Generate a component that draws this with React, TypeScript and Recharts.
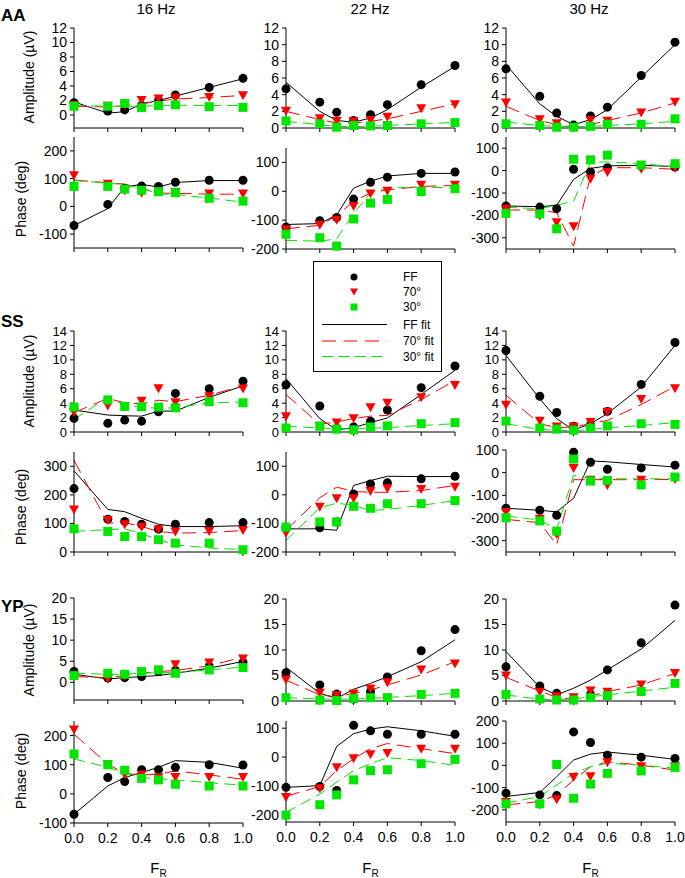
import React from "react";
import { ComposedChart, Line, XAxis, YAxis } from "recharts";

const FONT = "'Liberation Sans', Arial, sans-serif";
const GREEN = "#00e600";
const RED = "#ff0000";

// relative frequency of each condition
const FR = [0, 0.2, 0.3, 0.4, 0.5, 0.6, 0.8, 1.0];
const FR_TICKS = [0, 0.2, 0.4, 0.6, 0.8, 1.0];

const AMP12 = [0, 2, 4, 6, 8, 10, 12];
const AMP14 = [0, 2, 4, 6, 8, 10, 12, 14];
const AMP20 = [0, 5, 10, 15, 20];

// ---- AA ----
const AA16_AMP = {
  ff: [1.7, 0.55, 0.7, 1.3, 2.0, 2.75, 3.8, 5.05],
  d70: [1.3, 1.2, 1.3, 2.0, 2.2, 2.3, 2.4, 2.65],
  d30: [1.2, 1.2, 1.6, 1.0, 1.3, 1.4, 1.15, 1.05],
  ffFit: [1.8, 0.25, 0.45, 1.5, 2.0, 2.6, 3.8, 5.0],
  fit70: [1.2, 1.1, 1.3, 1.6, 1.9, 2.2, 2.4, 2.7],
  fit30: [1.3, 1.2, 1.2, 1.2, 1.3, 1.35, 1.3, 1.3],
};
const AA16_PH = {
  ff: [-69, 7, 65, 73, 72, 87, 94, 94],
  d70: [110, 80, 56, 47, 52, 50, 45, 45],
  d30: [72, 72, 62, 58, 53, 49, 29, 19],
  ffFit: [-69, -8, 70, 79, 70, 86, 93, 93],
  fit70: [95, 85, 80, 65, 48, 47, 44, 44],
  fit30: [93, 84, 78, 65, 45, 43, 30, 15],
};
const AA22_AMP = {
  ff: [4.7, 3.1, 1.9, 0.9, 1.6, 2.8, 5.2, 7.5],
  d70: [2.0, 1.1, 0.8, 0.75, 0.9, 1.3, 2.3, 2.8],
  d30: [0.85, 0.5, 0.1, 0.3, 0.25, 0.3, 0.5, 0.65],
  ffFit: [5.5, 2.0, 0.9, 0.7, 1.2, 2.2, 4.9, 7.4],
  fit70: [2.0, 1.0, 0.6, 0.6, 0.8, 1.1, 2.0, 2.9],
  fit30: [0.8, 0.4, 0.2, 0.15, 0.2, 0.3, 0.5, 0.65],
};
const AA22_PH = {
  ff: [-124, -102, -91, -27, 31, 49, 62, 67],
  d70: [-133, -118, -100, -53, -9, 0, 21, 21],
  d30: [-149, -161, -190, -96, -41, -28, -1, 9],
  ffFit: [-115, -112, -82, 11, 35, 53, 62, 62],
  fit70: [-130, -118, -85, -35, -6, 5, 17, 20],
  fit30: [-170, -173, -165, -76, -6, 12, 14, 12],
};
const AA30_AMP = {
  ff: [7.1, 3.8, 1.8, 0.35, 1.45, 2.5, 6.3, 10.3],
  d70: [3.0, 1.0, 0.5, 0.05, 0.9, 0.8, 1.8, 3.1],
  d30: [0.5, 0.3, 0.1, 0.1, 0.2, 0.45, 0.45, 1.1],
  ffFit: [7.6, 2.9, 1.4, 0.4, 1.0, 2.2, 6.1, 10.0],
  fit70: [2.6, 0.9, 0.4, 0.1, 0.4, 0.9, 1.8, 3.0],
  fit30: [0.7, 0.3, 0.2, 0.15, 0.2, 0.3, 0.5, 0.8],
};
const AA30_PH = {
  ff: [-158, -163, -170, 6, -6, 13, 21, 16],
  d70: [-173, -203, -233, -251, -39, -9, 6, 10],
  d30: [-191, -193, -260, 51, 48, 69, 25, 31],
  ffFit: [-158, -161, -155, -39, 10, 21, 24, 18],
  fit70: [-176, -176, -188, -337, -24, 13, 13, 6],
  fit30: [-164, -170, -155, -136, 36, 39, 31, 16],
};

// ---- SS ----
const SS16_AMP = {
  ff: [1.9, 1.2, 1.65, 1.5, 2.8, 5.35, 6.0, 7.05],
  d70: [2.7, 3.6, 3.5, 4.25, 6.0, 4.05, 4.9, 5.95],
  d30: [3.45, 4.45, 3.55, 3.5, 3.45, 3.35, 4.2, 4.05],
  ffFit: [3.05, 2.35, 2.25, 2.2, 2.9, 2.9, 4.8, 6.4],
  fit70: [2.7, 4.65, 4.05, 3.9, 4.4, 4.2, 5.1, 6.4],
  fit30: [1.75, 4.8, 3.75, 3.4, 3.3, 3.35, 4.05, 4.15],
};
const SS16_PH = {
  ff: [222, 115, 107, 97, 80, 97, 103, 103],
  d70: [147, 110, 95, 87, 78, 70, 72, 75],
  d30: [81, 72, 54, 54, 43, 31, 31, 8],
  ffFit: [284, 149, 141, 118, 97, 89, 89, 92],
  fit70: [321, 101, 103, 89, 72, 66, 68, 75],
  fit30: [72, 78, 81, 64, 43, 25, 14, 8],
};
const SS22_AMP = {
  ff: [6.55, 3.6, 0.5, 0.7, 1.5, 3.05, 6.15, 9.15],
  d70: [2.1, 0.8, 1.25, 1.85, 3.35, 4.0, 4.75, 6.45],
  d30: [0.55, 0.8, 0.4, 0.3, 0.7, 0.85, 1.15, 1.3],
  ffFit: [7.4, 1.85, 0.3, 0.6, 1.3, 1.95, 5.2, 8.55],
  fit70: [5.2, 1.05, 1.4, 1.85, 2.2, 2.3, 4.5, 7.15],
  fit30: [0.8, 0.55, 0.45, 0.45, 0.5, 0.6, 0.9, 1.15],
};
const SS22_PH = {
  ff: [-113, -115, -95, 3, 38, 42, 56, 65],
  d70: [-134, -43, -14, -14, 12, 21, 19, 27],
  d30: [-113, -95, -95, -40, -47, -31, -31, -20],
  ffFit: [-119, -119, -124, 33, 50, 65, 64, 64],
  fit70: [-124, -10, 27, 12, 9, 9, 15, 33],
  fit30: [-159, -45, -29, -37, -55, -51, -37, -20],
};
const SS30_AMP = {
  ff: [11.3, 4.95, 2.7, 0.8, 1.0, 2.85, 6.6, 12.4],
  d70: [3.7, 1.5, 0.7, 0.7, 1.3, 2.75, 4.5, 6.0],
  d30: [1.5, 0.55, 0.4, 0.25, 0.55, 0.85, 1.15, 1.05],
  ffFit: [10.6, 4.6, 1.85, 0.25, 1.15, 2.55, 6.25, 12.0],
  fit70: [5.1, 1.15, 0.6, 0.7, 1.15, 1.6, 3.8, 6.35],
  fit30: [1.15, 0.35, 0.25, 0.15, 0.35, 0.6, 0.9, 1.3],
};
const SS30_PH = {
  ff: [-157, -166, -188, 90, 46, 15, 21, 33],
  d70: [-176, -206, -273, 18, -34, -57, -34, -30],
  d30: [-199, -213, -258, 60, -37, -34, -54, -19],
  ffFit: [-157, -166, -173, -113, 52, 48, 36, 25],
  fit70: [-206, -221, -318, -31, -31, -31, -31, -30],
  fit30: [-191, -209, -251, -12, -24, -27, -27, -27],
};

// ---- YP ----
const YP16_AMP = {
  ff: [2.55, 1.0, 1.1, 1.35, 2.55, 2.8, 3.75, 4.8],
  d70: [1.5, 0.7, 1.35, 2.15, 2.8, 4.15, 4.55, 5.5],
  d30: [1.6, 2.15, 1.9, 2.55, 2.95, 2.15, 2.95, 3.5],
  ffFit: [1.9, 0.8, 1.1, 1.35, 1.6, 2.15, 3.35, 4.95],
  fit70: [1.35, 1.1, 1.6, 2.15, 2.55, 2.8, 3.9, 6.0],
  fit30: [2.15, 1.9, 1.9, 2.15, 2.3, 2.3, 2.95, 3.6],
};
const YP16_PH = {
  ff: [-70, 56, 42, 83, 83, 91, 100, 99],
  d70: [219, 100, 65, 65, 55, 56, 56, 56],
  d30: [137, 100, 81, 53, 48, 33, 27, 27],
  ffFit: [-70, 27, 56, 73, 91, 114, 108, 88],
  fit70: [205, 102, 70, 65, 67, 79, 65, 50],
  fit30: [120, 91, 73, 56, 52, 48, 38, 30],
};
const YP22_AMP = {
  ff: [5.55, 3.15, 1.35, 0.4, 1.85, 4.7, 9.85, 14.0],
  d70: [4.1, 1.5, 1.05, 1.35, 2.35, 3.6, 6.1, 7.25],
  d30: [0.65, 0.2, 0.1, 0.5, 0.65, 0.65, 1.3, 1.5],
  ffFit: [6.6, 1.5, 0.5, 2.3, 3.45, 4.75, 7.7, 12.0],
  fit70: [4.1, 1.2, 0.85, 1.5, 2.15, 3.15, 5.1, 7.7],
  fit30: [0.65, 0.4, 0.35, 0.4, 0.5, 0.7, 1.05, 1.5],
};
const YP22_PH = {
  ff: [-105, -102, -116, 110, 91, 79, 79, 79],
  d70: [-140, -110, -37, -6, 8, 12, 27, 27],
  d30: [-201, -165, -131, -79, -47, -44, -23, -8],
  ffFit: [-105, -99, 37, 81, 97, 105, 91, 72],
  fit70: [-136, -102, -47, -6, 29, 47, 29, 12],
  fit30: [-192, -128, -87, -47, -23, -2, -12, -29],
};
const YP30_AMP = {
  ff: [6.7, 2.95, 1.5, 0.4, 1.3, 6.1, 11.4, 18.8],
  d70: [4.9, 1.7, 0.85, 0.65, 1.95, 1.7, 3.15, 5.4],
  d30: [1.3, 0.4, 0.2, 0.2, 0.65, 1.05, 1.85, 3.45],
  ffFit: [9.7, 2.7, 1.2, 2.5, 4.1, 6.1, 10.2, 15.8],
  fit70: [4.65, 1.95, 0.7, 0.4, 1.0, 1.85, 3.15, 5.4],
  fit30: [1.2, 0.35, 0.2, 0.4, 0.85, 1.2, 1.95, 2.7],
};
const YP30_PH = {
  ff: [-125, -133, -136, 151, 103, 46, 37, 31],
  d70: [-167, -178, -155, -55, -51, 12, -6, -6],
  d30: [-173, -173, 4, -148, -84, -36, -25, -9],
  ffFit: [-140, -122, -51, 24, 51, 60, 46, 27],
  fit70: [-178, -163, -133, -66, -6, 16, 1, -21],
  fit30: [-170, -140, -88, -36, -6, 9, 1, -13],
};

type Series = {
  ff: number[]; d70: number[]; d30: number[];
  ffFit: number[]; fit70: number[]; fit30: number[];
};

const COL_X = [74, 286, 506];
const PLOT_W = 169;

const PANELS = [
  { s: AA16_AMP, col: 0, y0: 28, y1: 128, domain: [-1.8, 12], ticks: AMP12 },
  { s: AA22_AMP, col: 1, y0: 28, y1: 128, domain: [0, 12], ticks: AMP12 },
  { s: AA30_AMP, col: 2, y0: 28, y1: 128, domain: [0, 12], ticks: AMP12 },
  { s: AA16_PH, col: 0, y0: 137, y1: 248, domain: [-150, 250], ticks: [-100, 0, 100, 200] },
  { s: AA22_PH, col: 1, y0: 148, y1: 249, domain: [-200, 150], ticks: [-200, -100, 0, 100] },
  { s: AA30_PH, col: 2, y0: 137, y1: 249, domain: [-350, 150], ticks: [-300, -200, -100, 0, 100] },
  { s: SS16_AMP, col: 0, y0: 331, y1: 432, domain: [0, 14], ticks: AMP14, small: true },
  { s: SS22_AMP, col: 1, y0: 331, y1: 432, domain: [0, 14], ticks: AMP14, small: true },
  { s: SS30_AMP, col: 2, y0: 331, y1: 432, domain: [0, 14], ticks: AMP14, small: true },
  { s: SS16_PH, col: 0, y0: 452, y1: 552, domain: [0, 350], ticks: [0, 100, 200, 300] },
  { s: SS22_PH, col: 1, y0: 452, y1: 552, domain: [-200, 150], ticks: [-200, -100, 0, 100] },
  { s: SS30_PH, col: 2, y0: 450, y1: 552, domain: [-350, 100], ticks: [-300, -200, -100, 0, 100] },
  { s: YP16_AMP, col: 0, y0: 598, y1: 700, domain: [-4.2, 20], ticks: AMP20 },
  { s: YP22_AMP, col: 1, y0: 599, y1: 701, domain: [0, 20], ticks: AMP20 },
  { s: YP30_AMP, col: 2, y0: 599, y1: 701, domain: [0, 20], ticks: AMP20 },
  { s: YP16_PH, col: 0, y0: 721, y1: 823, domain: [-100, 250], ticks: [-100, 0, 100, 200], showX: true },
  { s: YP22_PH, col: 1, y0: 721, y1: 822, domain: [-225, 125], ticks: [-200, -100, 0, 100], showX: true },
  { s: YP30_PH, col: 2, y0: 721, y1: 822, domain: [-255, 200], ticks: [-200, -100, 0, 100, 200], showX: true },
];

const circleDot = (p: any) => (
  <circle key={`c${p.index}`} cx={p.cx} cy={p.cy} r={4.5} fill="#000" />
);
const triDot = (p: any) => (
  <polygon
    key={`t${p.index}`}
    points={`${p.cx - 5},${p.cy - 4.5} ${p.cx + 5},${p.cy - 4.5} ${p.cx},${p.cy + 4.5}`}
    fill={RED}
  />
);
const squareDot = (p: any) => (
  <rect key={`s${p.index}`} x={p.cx - 4.5} y={p.cy - 4.5} width={9} height={9} fill={GREEN} />
);

function Panel({ s, col, y0, y1, domain, ticks, showX, small }: any) {
  const series = s as Series;
  const YW = 60, MT = 8, MR = 10;
  const XH = showX ? 32 : 10;
  const h = y1 - y0;
  const xTick = { fontSize: 14, fill: "#000", fontFamily: FONT };
  const yTick = { fontSize: small ? 13 : 14, fill: "#000", fontFamily: FONT };
  const data = FR.map((f, i) => ({
    x: f,
    ff: series.ff[i], d70: series.d70[i], d30: series.d30[i],
    ffFit: series.ffFit[i], fit70: series.fit70[i], fit30: series.fit30[i],
  }));
  return (
    <div style={{ position: "absolute", left: COL_X[col] - YW, top: y0 - MT }}>
      <ComposedChart
        width={YW + PLOT_W + MR}
        height={MT + h + XH}
        data={data}
        margin={{ top: MT, right: MR, left: 0, bottom: 0 }}
      >
        <XAxis
          type="number"
          dataKey="x"
          domain={[0, 1]}
          ticks={FR_TICKS}
          interval={0}
          height={XH}
          tickSize={4}
          tickMargin={6}
          axisLine={{ stroke: "#000" }}
          tickLine={{ stroke: "#000" }}
          tick={xTick}
          tickFormatter={(v: number) => (showX ? v.toFixed(1) : "")}
        />
        <YAxis
          type="number"
          domain={domain}
          ticks={ticks}
          interval={0}
          width={YW}
          tickSize={4}
          tickMargin={3}
          axisLine={{ stroke: "#000" }}
          tickLine={{ stroke: "#000" }}
          tick={yTick}
        />
        <Line dataKey="ffFit" stroke="#000" strokeWidth={1} dot={false} activeDot={false} isAnimationActive={false} />
        <Line dataKey="fit70" stroke={RED} strokeWidth={1} strokeDasharray="14 7" dot={false} activeDot={false} isAnimationActive={false} />
        <Line dataKey="fit30" stroke={GREEN} strokeWidth={1} strokeDasharray="11 6" dot={false} activeDot={false} isAnimationActive={false} />
        <Line dataKey="ff" stroke="none" dot={circleDot} activeDot={false} isAnimationActive={false} />
        <Line dataKey="d70" stroke="none" dot={triDot} activeDot={false} isAnimationActive={false} />
        <Line dataKey="d30" stroke="none" dot={squareDot} activeDot={false} isAnimationActive={false} />
      </ComposedChart>
    </div>
  );
}

const HEADERS = [
  { text: "16 Hz", x: 156 },
  { text: "22 Hz", x: 370 },
  { text: "30 Hz", x: 589 },
];
const SUBJECTS = [
  { text: "AA", y: 21, amp: 77, ph: 199 },
  { text: "SS", y: 327, amp: 381, ph: 507 },
  { text: "YP", y: 612, amp: 650, ph: 771 },
];

const LEGEND_ROWS = [
  { label: "FF", y: 277, kind: "circle" },
  { label: "70°", y: 292, kind: "tri" },
  { label: "30°", y: 307, kind: "square" },
  { label: "FF fit", y: 324.5, kind: "lineFF" },
  { label: "70° fit", y: 341, kind: "line70" },
  { label: "30° fit", y: 356.5, kind: "line30" },
];

function LegendBox() {
  const mx = 354;
  return (
    <g>
      <rect x={313.5} y={261.5} width={128} height={110} fill="#fff" stroke="#000" strokeWidth={1} />
      {LEGEND_ROWS.map((r) => (
        <g key={r.label}>
          {r.kind === "circle" && <circle cx={mx} cy={r.y} r={3.5} fill="#000" />}
          {r.kind === "tri" && (
            <polygon points={`${mx - 4},${r.y - 3.5} ${mx + 4},${r.y - 3.5} ${mx},${r.y + 3.5}`} fill={RED} />
          )}
          {r.kind === "square" && <rect x={mx - 3.5} y={r.y - 3.5} width={7} height={7} fill={GREEN} />}
          {r.kind === "lineFF" && <line x1={322} x2={387} y1={r.y} y2={r.y} stroke="#000" />}
          {r.kind === "line70" && (
            <line x1={322} x2={387} y1={r.y} y2={r.y} stroke={RED} strokeDasharray="14 7.5" />
          )}
          {r.kind === "line30" && (
            <line x1={322} x2={387} y1={r.y} y2={r.y} stroke={GREEN} strokeDasharray="11 5.5" />
          )}
          <text x={403} y={r.y} dominantBaseline="central" fontSize={12} fontFamily={FONT} fill="#000">
            {r.label}
          </text>
        </g>
      ))}
    </g>
  );
}

export default function App() {
  return (
    <div style={{ position: "absolute", left: 0, top: 0, width: 685, height: 878, background: "#fff", fontFamily: FONT }}>
      {PANELS.map((p, i) => (
        <Panel key={i} {...p} />
      ))}
      <svg width={685} height={878} style={{ position: "absolute", left: 0, top: 0, pointerEvents: "none" }}>
        {HEADERS.map((h) => (
          <text key={h.text} x={h.x} y={14} textAnchor="middle" fontSize={15} fontFamily={FONT} fill="#000">
            {h.text}
          </text>
        ))}
        {SUBJECTS.map((s) => (
          <g key={s.text}>
            <text x={1} y={s.y} fontSize={17} fontWeight="bold" fontFamily={FONT} fill="#000">
              {s.text}
            </text>
            <text
              x={29}
              y={s.amp}
              textAnchor="middle"
              dominantBaseline="central"
              fontSize={14}
              fontFamily={FONT}
              fill="#000"
              transform={`rotate(-90 29 ${s.amp})`}
            >
              Amplitude (µV)
            </text>
            <text
              x={20.5}
              y={s.ph}
              textAnchor="middle"
              dominantBaseline="central"
              fontSize={14}
              fontFamily={FONT}
              fill="#000"
              transform={`rotate(-90 20.5 ${s.ph})`}
            >
              Phase (deg)
            </text>
          </g>
        ))}
        {COL_X.map((x) => (
          <text key={x} x={x + PLOT_W / 2} y={873} textAnchor="middle" fontSize={15} fontFamily={FONT} fill="#000">
            F<tspan fontSize={10} dy={4}>R</tspan>
          </text>
        ))}
        <LegendBox />
      </svg>
    </div>
  );
}
